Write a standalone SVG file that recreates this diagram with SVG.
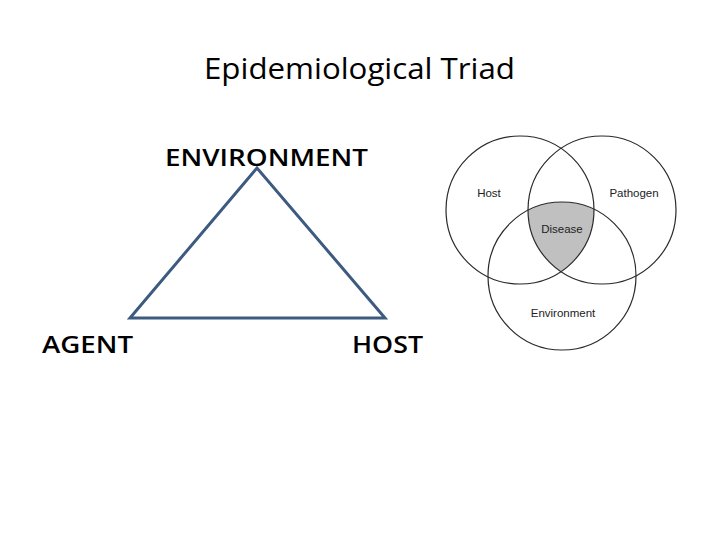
<svg xmlns="http://www.w3.org/2000/svg" width="720" height="540" viewBox="0 0 720 540">
<style>
.title{font-family:"Open Sans","Liberation Sans",sans-serif;font-size:30px;fill:#000}
.lbl{font-family:"Open Sans","Liberation Sans",sans-serif;font-weight:600;font-size:24px;fill:#000}
.venn{fill:none;stroke:#2a2a2a;stroke-width:1.2}
.vt{font-family:"Liberation Sans",Arial,sans-serif;font-size:11.5px;fill:#222;text-anchor:middle}
</style>
<rect width="720" height="540" fill="#fff"/>
<text class="title" x="359.5" y="79" text-anchor="middle" textLength="311" lengthAdjust="spacingAndGlyphs">Epidemiological Triad</text>
<g id="connectors">
<polygon points="257,168 130,318 385,318" fill="none" stroke="#3d5a80" stroke-width="3" stroke-linejoin="miter"/>
</g>
<g id="environment"><text class="lbl" x="165" y="166" textLength="203" lengthAdjust="spacingAndGlyphs">ENVIRONMENT</text></g>
<g id="agent"><text class="lbl" x="42" y="353" textLength="91" lengthAdjust="spacingAndGlyphs">AGENT</text></g>
<g id="host"><text class="lbl" x="352" y="353" textLength="71" lengthAdjust="spacingAndGlyphs">HOST</text></g>
<g id="venn">
<path d="M528,210.3 A74,74 0 0 1 594,209.3 A74,74 0 0 1 561,271.6 A74,74 0 0 1 528,210.3 Z" fill="#c0c0c0"/>
<g id="venn-host"><circle class="venn" cx="520" cy="210" r="74"/><text class="vt" x="489" y="197">Host</text></g>
<g id="venn-pathogen"><circle class="venn" cx="602" cy="210" r="74"/><text class="vt" x="634" y="197">Pathogen</text></g>
<g id="venn-environment"><circle class="venn" cx="562" cy="276" r="74"/><text class="vt" x="563" y="317">Environment</text></g>
<g id="venn-disease"><text class="vt" x="562" y="233">Disease</text></g>
</g>
</svg>
